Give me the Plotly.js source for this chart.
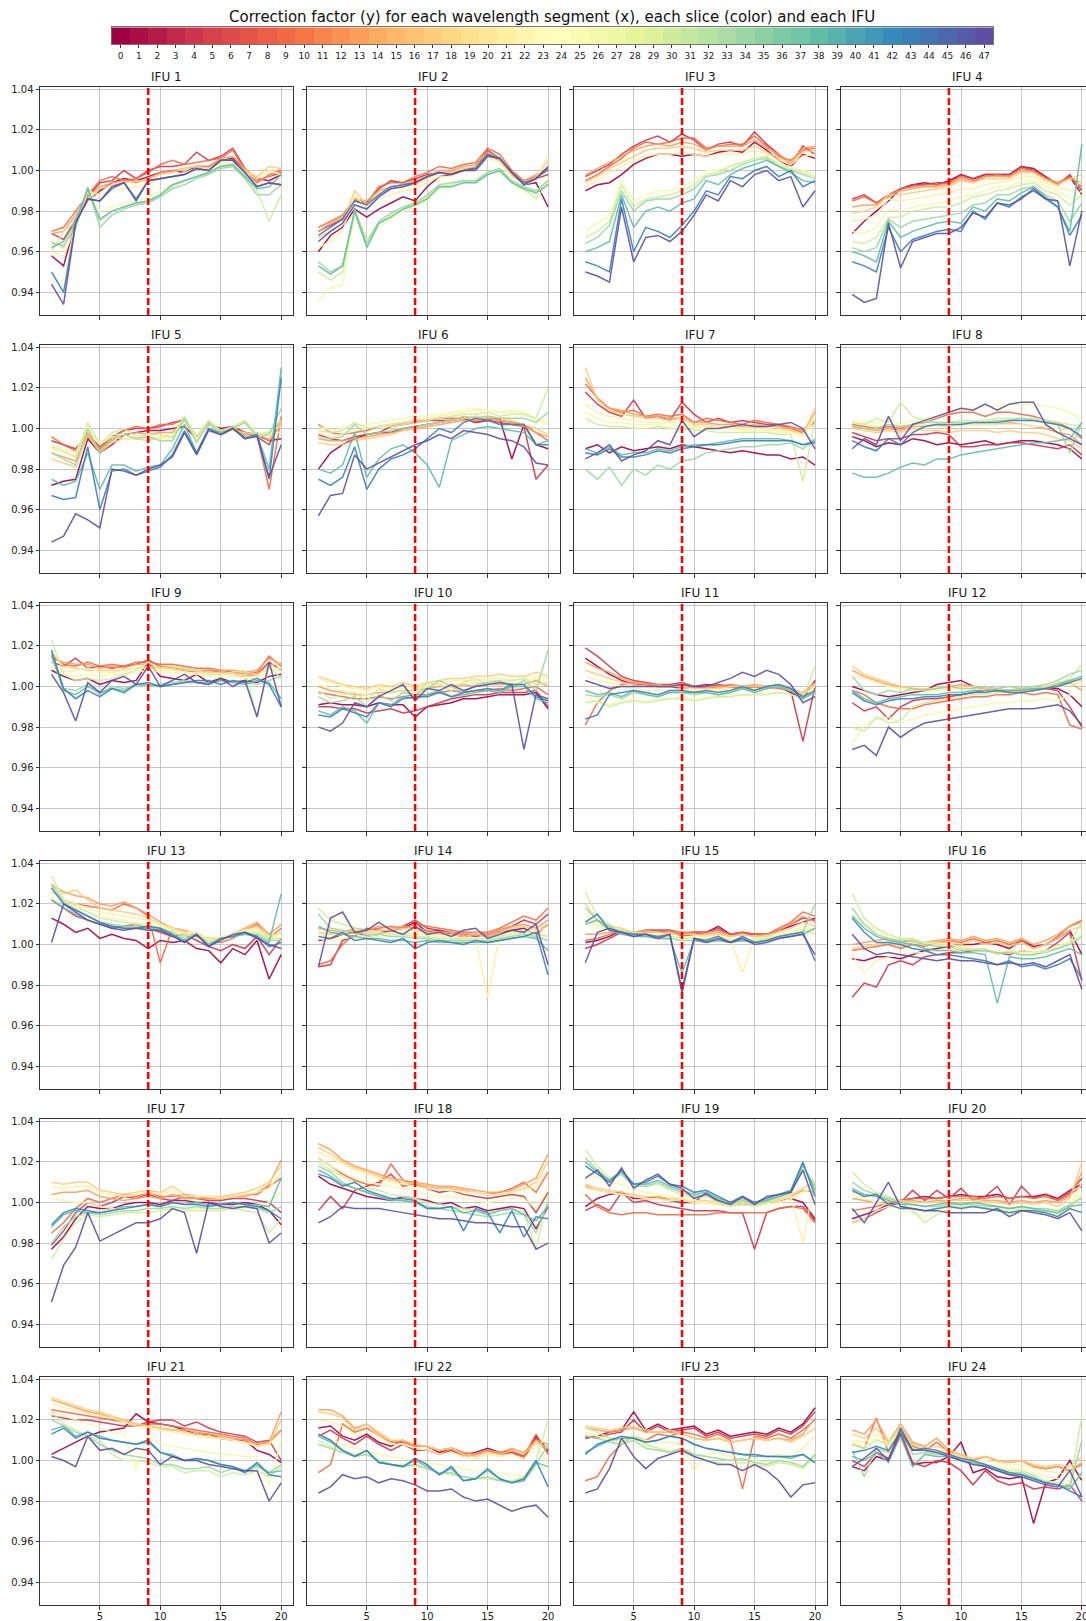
<!DOCTYPE html>
<html>
<head>
<meta charset="utf-8">
<script src="https://cdn.plot.ly/plotly-3.0.1.min.js"></script>
<style>
  html, body { margin: 0; padding: 0; overflow: hidden; background: #ffffff; }
  #chart { width: 1094px; height: 1621px; }
</style>
</head>
<body>
<div id="chart"></div>
<script>
// Wavelength segment index (x axis of every panel)
const segments = [1,2,3,4,5,6,7,8,9,10,11,12,13,14,15,16,17,18,19,20];
// Slices drawn per IFU (row j of each IFU table belongs to slices[j])
const slices = [0,4,9,13,17,21,26,30,34,38,43,47];
// Colour bar ticks: all 48 slices
const sliceTicks = [0,1,2,3,4,5,6,7,8,9,10,11,12,13,14,15,16,17,18,19,20,21,22,23,24,25,26,27,28,29,30,31,32,33,34,35,36,37,38,39,40,41,42,43,44,45,46,47];
// Segment where the reference wavelength sits
const refSegment = 9;
// y axis tick values and labels
const yTicks = [0.94,0.96,0.98,1.00,1.02,1.04];
const yTickText = ['0.94','0.96','0.98','1.00','1.02','1.04'];
const xTicks = [5,10,15,20];

// Correction factor minus 1, in units of 0.001, one row per slice in `slices`
const ifu01 = [
[-42,-47,-25,-15,-10,-6,-4,-5,-3,-1,0,-1,2,2,5,6,0,-4,-5,-2],
[-31,-34,-24,-13,-6,-5,0,-4,0,2,2,3,9,5,7,11,1,-5,-3,-1],
[-30,-28,-20,-12,-5,-3,-5,-4,-1,3,5,3,4,5,6,10,0,-6,-2,0],
[-31,-30,-22,-13,-8,-6,-5,-6,-4,-1,0,1,2,2,6,7,1,-5,-3,1],
[-35,-38,-25,-15,-9,-7,-6,-5,-5,-2,-1,1,2,1,5,5,0,-3,2,1],
[-40,-42,-28,-10,-12,-10,-9,-8,-7,-4,-3,-1,1,0,4,4,-1,-4,0,-2],
[-55,-54,-27,-8,-20,-18,-16,-15,-13,-10,-7,-5,-3,-1,3,3,-2,-7,-6,-8],
[-40,-30,-25,-10,-25,-20,-18,-16,-15,-12,-8,-5,-3,-1,2,2,-3,-10,-25,-12],
[-36,-37,-28,-8,-28,-22,-19,-17,-16,-13,-9,-7,-4,-2,1,2,-4,-12,-12,-7],
[-38,-35,-25,-9,-24,-20,-18,-16,-15,-12,-7,-5,-3,-1,2,3,-3,-9,-8,-2],
[-50,-60,-26,-14,-15,-9,-6,-14,-5,-4,-3,-2,1,0,5,5,-1,-8,-6,-7],
[-56,-66,-26,-14,-15,-8,-6,-15,-5,-4,-3,-2,1,0,5,5,-1,-8,-6,-7]
];
const ifu02 = [
[-40,-32,-28,-19,-23,-19,-16,-13,-15,-8,-3,-2,0,1,8,5,-2,-7,-6,-18],
[-30,-27,-24,-15,-16,-9,-5,-6,-4,-2,-1,-1,0,2,10,6,-1,-6,-4,-2],
[-28,-25,-22,-14,-16,-8,-6,-6,-3,-1,2,1,3,4,11,8,0,-5,-3,0],
[-30,-26,-23,-14,-15,-10,-8,-7,-5,-3,0,0,2,3,9,6,-1,-5,-2,1],
[-33,-30,-26,-10,-17,-11,-9,-8,-7,-4,-1,-1,1,2,7,5,-2,-6,-4,5],
[-38,-35,-30,-12,-19,-14,-12,-10,-9,-6,-3,-3,0,0,6,4,-3,-7,-5,8],
[-64,-58,-56,-22,-37,-28,-24,-20,-18,-15,-9,-8,-6,-5,-1,-1,-6,-10,-12,-4],
[-50,-54,-50,-20,-34,-26,-22,-19,-16,-13,-8,-7,-5,-6,-2,0,-6,-9,-14,-6],
[-45,-50,-47,-19,-36,-25,-21,-18,-16,-12,-7,-6,-5,-5,-1,1,-5,-8,-10,-5],
[-47,-51,-47,-20,-38,-26,-23,-19,-17,-14,-8,-8,-6,-6,-2,0,-6,-9,-11,-7],
[-32,-28,-24,-15,-17,-12,-8,-7,-6,-3,-1,-2,0,1,8,6,-1,-6,-4,1],
[-35,-30,-26,-17,-19,-13,-9,-8,-6,-3,-1,-2,0,0,7,6,-1,-7,-4,2]
];
const ifu03 = [
[-10,-7,-6,-2,3,6,8,8,7,8,7,9,10,9,14,10,5,2,8,6],
[-3,0,3,8,12,15,17,14,18,15,10,13,14,12,19,13,8,3,12,8],
[-5,-2,2,6,11,14,13,14,16,16,11,12,13,13,17,12,7,5,10,11],
[-2,1,4,7,10,12,13,12,14,13,10,12,12,12,15,11,8,4,11,12],
[-6,-3,1,4,7,10,11,11,12,11,9,10,10,10,12,9,6,4,9,10],
[-8,-5,-1,2,5,7,8,8,9,8,7,8,8,8,10,8,5,3,7,8],
[-30,-26,-22,-5,-15,-12,-10,-10,-8,-5,0,0,3,4,6,7,3,2,0,-2],
[-33,-30,-25,-7,-18,-14,-13,-12,-10,-7,-2,-1,2,4,6,7,3,1,-1,-3],
[-36,-33,-27,-10,-20,-15,-14,-14,-12,-9,-3,-2,0,3,5,6,2,0,-2,-4],
[-40,-38,-35,-12,-28,-20,-18,-20,-16,-14,-5,-7,-2,1,3,5,2,-1,-5,-6],
[-45,-47,-50,-14,-40,-28,-30,-33,-27,-20,-10,-12,-3,-4,0,2,-3,0,-8,-5],
[-50,-52,-55,-18,-45,-33,-32,-35,-30,-22,-12,-15,-5,-8,-2,0,-5,-3,-18,-10]
];
const ifu04 = [
[-31,-25,-20,-15,-9,-7,-6,-7,-5,-2,-4,-2,-2,-2,2,1,-3,-7,-3,-12],
[-14,-12,-16,-12,-9,-7,-7,-6,-6,-2,-4,-2,-2,-2,2,0,-3,-7,-2,-10],
[-15,-13,-16,-13,-9,-8,-7,-7,-6,-3,-5,-3,-2,-3,1,0,-4,-6,-3,-8],
[-18,-17,-17,-12,-10,-9,-8,-8,-7,-4,-6,-3,-3,-3,0,-1,-4,-6,-4,-6],
[-21,-20,-18,-12,-12,-11,-10,-9,-8,-5,-6,-4,-4,-4,-1,-1,-5,-7,-4,-2],
[-25,-24,-22,-14,-15,-14,-13,-12,-11,-9,-9,-7,-6,-5,-3,-3,-6,-8,-10,-5],
[-30,-31,-28,-19,-20,-18,-17,-16,-15,-13,-12,-10,-8,-8,-5,-5,-8,-10,-14,-10],
[-35,-36,-33,-23,-23,-20,-19,-18,-18,-16,-13,-12,-10,-9,-7,-6,-10,-12,-17,-12],
[-38,-40,-38,-24,-28,-25,-24,-23,-22,-21,-17,-16,-12,-12,-9,-8,-12,-15,-25,-16],
[-40,-42,-45,-25,-33,-30,-28,-26,-25,-26,-18,-20,-14,-15,-11,-8,-13,-18,-30,13],
[-45,-47,-50,-28,-40,-34,-32,-30,-29,-30,-20,-24,-16,-18,-13,-10,-14,-18,-32,-22],
[-61,-65,-63,-26,-48,-35,-33,-31,-31,-28,-21,-23,-16,-17,-14,-9,-14,-15,-47,-20]
];
const ifu05 = [
[-28,-26,-25,-5,-12,-8,-3,-2,-1,-1,0,1,-5,2,0,1,-2,-3,-6,-5],
[-6,-8,-10,-3,-9,-4,-1,0,0,1,3,4,-4,2,-1,1,-2,-4,-8,4],
[-4,-8,-11,-4,-10,-5,-1,1,0,2,2,5,-4,3,-2,0,-2,-3,-30,6],
[-12,-14,-16,-2,-11,-6,-3,-2,-3,-2,-2,5,-5,3,-1,0,-3,-2,-6,5],
[-15,-17,-19,-3,-12,-7,-5,-5,-6,-4,-4,4,-6,2,-2,-1,-2,-3,-5,3],
[-10,-12,-14,0,-8,-4,-5,-5,-4,-5,-5,6,-6,3,-3,-1,3,-4,-2,-2],
[-8,-10,-12,2,-7,-3,-3,-5,-4,-4,-5,6,-5,3,-2,0,4,-3,-1,1],
[-9,-11,-14,3,-8,-2,0,-4,-3,-3,-4,6,-4,4,-1,1,4,-3,-2,4],
[-12,-15,-18,0,-12,-5,-3,-5,-4,-6,-6,5,-7,3,-3,0,3,-4,-3,10],
[-25,-28,-26,-12,-30,-18,-18,-21,-19,-18,-10,2,-12,0,-2,0,-4,-3,-20,30],
[-33,-35,-34,-9,-40,-21,-20,-23,-21,-19,-13,-1,-12,0,-3,0,-5,-3,-25,25],
[-56,-53,-42,-45,-49,-20,-21,-23,-20,-18,-14,-2,-13,-1,-3,0,-5,-4,-24,-8]
];
const ifu06 = [
[-20,-12,-8,-5,-3,-2,-2,0,1,2,3,4,5,3,4,5,-15,2,-8,-10],
[-3,-5,-6,-4,-3,-2,1,2,3,4,4,4,5,3,4,3,2,1,-25,-18],
[2,-2,-3,-2,-1,1,2,3,4,4,5,5,5,4,5,4,3,2,-2,-6],
[-5,-6,-6,-5,-4,-3,-2,-1,0,1,2,3,4,4,5,4,3,1,-2,-4],
[-7,-8,-8,-6,-5,-4,-3,-1,0,2,3,4,5,6,6,5,4,2,0,-3],
[-2,-4,-3,-1,0,1,2,3,4,5,6,7,8,9,9,8,8,7,4,2],
[1,-1,0,2,2,3,4,5,6,6,7,8,9,10,9,8,9,8,5,3],
[-1,-2,-1,3,0,1,1,2,3,4,5,6,7,7,8,6,7,7,5,20],
[-4,-5,-4,2,-3,-2,-1,0,1,2,3,4,6,5,6,5,5,5,3,8],
[-20,-22,-18,-2,-24,-15,-10,-8,-12,-18,-29,-6,-3,0,1,0,-1,-2,-8,-6],
[-25,-28,-24,-9,-30,-20,-15,-13,-10,-5,0,-2,3,5,4,2,2,2,-8,-8],
[-43,-33,-32,-13,-20,-17,-14,-11,-8,-6,-3,-5,-1,-2,-3,-5,-6,-9,-17,-18]
];
const ifu07 = [
[-10,-8,-12,-9,-11,-10,-9,-10,-8,-9,-10,-11,-12,-11,-12,-13,-13,-15,-14,-18],
[18,12,8,6,14,5,6,4,13,7,3,5,3,4,3,2,2,0,-2,4],
[22,15,10,8,9,6,7,6,7,3,5,4,3,2,4,3,2,1,-1,3],
[25,15,10,9,7,6,6,5,5,3,3,2,2,1,2,1,1,0,-2,8],
[30,14,9,7,6,5,5,4,5,2,2,1,1,0,1,0,0,-1,-3,10],
[12,8,6,5,4,3,3,3,3,1,1,1,0,0,0,0,-1,-2,-3,6],
[8,5,3,3,2,2,2,1,2,0,0,0,0,-1,-1,-1,-2,-2,-4,5],
[5,2,1,1,0,0,1,0,0,-1,-1,-2,-2,-2,-2,-2,-3,-3,-26,4],
[-20,-25,-19,-28,-20,-23,-18,-20,-16,-15,-12,-11,-10,-9,-9,-8,-8,-7,-10,-5],
[-10,-12,-9,-13,-12,-12,-10,-11,-9,-8,-8,-7,-6,-5,-5,-5,-5,-6,-8,-6],
[-12,-13,-10,-14,-14,-13,-11,-12,-10,-9,-8,-8,-7,-6,-6,-6,-6,-6,-8,-7],
[-15,-12,-8,-16,-13,-11,-6,-8,4,-4,0,0,1,2,1,1,2,3,0,-10]
];
const ifu08 = [
[-4,-6,-9,-7,-8,-5,-6,-8,-7,-8,-7,-6,-8,-7,-6,-6,-7,-8,-10,-15],
[-2,-4,-6,-5,-5,-3,-3,-2,-3,-9,-9,-8,-8,-7,-7,-8,-9,-10,-8,-13],
[2,1,0,1,0,2,3,5,7,8,8,6,8,8,7,6,4,3,0,-5],
[1,0,-1,0,-1,1,1,2,1,2,2,2,2,3,2,1,0,-2,-3,-8],
[0,-1,-2,-1,-2,0,-1,-1,-2,-1,-1,-1,-2,-1,-2,-2,-3,-5,-6,-10],
[3,2,1,2,1,2,2,1,1,2,2,2,2,2,2,1,1,0,-1,-4],
[4,3,3,4,2,4,5,6,8,10,10,11,11,12,12,12,11,10,8,4],
[3,2,5,3,13,6,4,3,3,4,4,4,5,5,5,5,4,3,2,1],
[1,0,0,2,1,2,3,3,3,3,3,3,4,4,5,4,3,2,-12,3],
[-22,-24,-24,-22,-19,-17,-18,-15,-15,-13,-12,-11,-10,-9,-8,-7,-7,-6,-5,3],
[-6,-9,-11,-5,-8,-2,1,2,2,2,3,3,3,4,4,4,3,2,0,-4],
[-10,-5,-8,6,-6,2,4,6,8,10,9,12,9,12,13,13,2,-2,-5,-8]
];
const ifu09 = [
[8,5,3,4,1,3,2,3,12,5,4,3,6,2,4,2,3,2,5,6],
[12,10,14,9,10,9,10,11,13,10,9,8,7,8,7,6,5,6,12,8],
[15,11,10,12,10,11,10,12,12,11,11,10,9,9,8,7,6,7,15,10],
[14,12,11,11,9,10,9,11,11,10,10,9,8,8,8,8,7,8,14,11],
[17,10,9,8,8,8,8,9,10,9,9,8,8,7,7,6,6,6,10,12],
[10,7,8,9,7,7,8,9,9,8,8,7,7,6,6,6,5,5,9,9],
[12,6,5,6,5,6,6,7,8,7,7,6,6,5,5,5,4,4,8,8],
[23,6,3,4,3,4,6,8,12,9,10,9,8,6,6,7,8,-15,10,4],
[15,-1,-2,1,-4,0,-1,1,0,1,2,3,2,1,3,2,2,1,3,5],
[16,-2,-4,0,-3,-1,-2,1,1,0,1,2,2,2,3,2,1,3,2,-6],
[18,-1,-6,-2,-5,-1,-3,1,2,0,1,2,3,3,1,3,2,4,1,-10],
[6,-3,-17,2,-3,3,5,1,10,0,3,6,2,1,4,0,3,-15,12,-10]
];
const ifu10 = [
[-9,-8,-9,-9,-10,-8,-9,-9,-15,-10,-9,-8,-6,-6,-5,-4,-4,-4,-3,-11],
[-10,-10,-11,-11,-13,-12,-11,-13,-12,-10,-8,-6,-5,-4,-4,-3,-3,-3,-2,-10],
[-3,-4,-5,-6,-6,-5,-6,-5,-4,-4,-3,-2,-3,-2,-2,-1,-2,-1,0,-4],
[0,-2,-3,-4,-4,-3,-3,-2,-2,-1,0,0,1,0,1,1,1,1,3,0],
[5,3,1,0,-1,1,0,2,0,2,3,4,4,5,5,6,5,5,7,5],
[4,2,0,-1,-2,0,-1,1,-1,1,2,3,3,3,4,4,3,4,5,4],
[1,-1,-2,-3,-4,-2,-2,-1,-2,0,1,1,2,2,3,3,2,2,4,2],
[-2,-6,-4,-3,-7,-1,-3,-2,-4,2,1,-2,2,4,1,2,3,4,1,2],
[-5,-8,-7,-5,-10,-4,-7,-3,-4,-1,3,0,-3,1,2,3,-1,3,-2,18],
[-12,-14,-10,-12,-18,-8,-9,-5,-6,-4,-2,-5,-4,-3,-2,-3,0,0,-6,-8],
[-14,-15,-11,-13,-15,-8,-10,-6,-5,-5,-3,-5,-3,-2,-1,-2,1,1,-5,-7],
[-20,-22,-18,-8,-10,-5,-2,1,-7,-1,-2,1,-2,0,1,2,1,-31,-4,-6]
];
const ifu11 = [
[14,10,6,3,1,1,0,0,-1,0,1,0,0,-1,0,-1,0,-3,-6,3],
[19,15,10,5,3,2,1,1,2,0,0,1,0,-1,0,-1,0,-2,-27,0],
[-19,-8,-2,1,2,1,0,0,1,0,-1,0,1,0,0,0,-1,-2,-4,2],
[12,9,7,4,2,1,1,0,1,0,0,0,0,0,1,0,1,-1,-3,2],
[8,6,4,2,1,0,0,0,0,-1,-1,-1,0,0,0,0,0,-2,-3,1],
[5,3,2,0,-1,-2,-2,-2,-1,-2,-2,-2,-1,-1,-1,-1,0,-2,-4,0],
[-5,-8,-9,-7,-6,-7,-6,-6,-5,-6,-5,-5,-4,-4,-4,-3,-3,-4,-6,-3],
[-8,-7,-10,-8,-7,-8,-7,-6,-6,-7,-6,-5,-5,-4,-4,-4,-3,-4,-6,10],
[-4,-5,-4,-6,-3,-4,-5,-3,-3,-4,-3,-4,-3,-1,-2,0,1,-1,-5,-2],
[-2,-4,-3,-5,-2,-4,-5,-3,-3,-3,-3,-4,-3,-1,-3,-1,0,-2,-6,-3],
[-16,-14,-4,-3,-2,-3,-4,-2,-2,-3,-2,-3,-2,0,-2,0,1,-1,-5,-2],
[3,1,-1,0,0,0,0,0,1,0,0,2,4,7,5,8,6,1,-8,-5]
];
const ifu12 = [
[0,-2,-4,-5,-4,-3,-2,1,2,3,0,-1,-2,-3,-2,-2,-1,-1,-4,-10],
[-8,-12,-10,-16,-10,-7,-6,-6,-5,-4,-3,-2,-2,-2,-1,-2,-1,-2,-10,-20],
[-2,-4,-8,-10,-11,-11,-9,-8,-7,-6,-5,-5,-4,-4,-3,-4,-3,-4,-19,-21],
[8,5,3,1,0,-1,-2,-1,0,1,0,-1,-2,-3,-2,-2,-1,1,2,-2],
[10,6,4,2,0,-1,-1,-1,0,0,0,-1,-1,-2,-1,-1,0,2,3,3],
[6,4,2,0,-1,-2,-2,-2,-1,-1,-1,-2,-2,-3,-2,-2,-1,0,1,2],
[-28,-19,-16,-15,-18,-16,-14,-13,-12,-11,-10,-9,-8,-8,-7,-7,-6,-7,-4,-6],
[-20,-22,-15,-18,-17,-10,-8,-7,-6,-5,-4,-4,-3,-3,-2,-2,-1,1,4,11],
[5,-2,-4,-2,-3,-1,-2,-1,0,-1,-1,0,-1,0,-1,0,1,3,6,8],
[-2,-6,-8,-6,-5,-4,-4,-4,-3,-3,-2,-2,-2,-2,-2,-1,-1,1,3,5],
[-3,-7,-9,-7,-6,-6,-5,-5,-4,-4,-3,-3,-2,-3,-3,-2,-1,0,2,4],
[-31,-29,-34,-20,-25,-21,-18,-17,-16,-15,-14,-13,-12,-11,-11,-11,-10,-9,-12,-19]
];
const ifu13 = [
[13,10,6,8,3,5,3,2,-2,2,1,2,-2,-3,-9,-2,-5,2,-17,-5],
[22,18,14,12,10,8,9,10,8,6,4,5,2,-1,-3,0,-2,4,-5,3],
[26,22,20,19,18,17,20,18,14,-9,8,6,4,2,1,3,7,10,3,8],
[29,26,24,23,20,19,21,18,15,11,8,7,5,3,3,5,8,11,5,10],
[30,25,27,22,18,17,16,15,13,10,7,6,5,2,3,4,7,9,4,6],
[26,22,20,18,16,15,14,13,12,10,8,6,6,3,4,5,7,8,4,5],
[23,20,18,16,14,13,12,11,10,9,7,5,6,2,3,5,7,7,3,4],
[34,22,19,16,13,12,11,10,9,8,6,4,6,1,3,5,6,6,3,3],
[30,21,17,14,11,10,9,9,8,8,6,3,5,0,3,4,5,5,2,2],
[22,18,15,12,10,9,8,8,8,7,5,2,5,0,3,4,5,4,1,25],
[28,20,17,14,11,9,8,8,9,8,5,1,5,-1,3,4,6,4,-1,1],
[1,20,16,12,10,8,7,8,7,7,4,1,5,-1,2,5,6,3,0,-2]
];
const ifu14 = [
[2,3,5,6,4,5,7,8,11,6,7,5,4,5,4,6,7,8,5,10],
[-11,-10,2,4,8,7,6,9,12,8,7,6,5,4,5,7,9,12,10,15],
[-10,-8,0,5,7,8,9,8,10,9,8,7,6,6,6,8,11,14,12,18],
[8,7,6,8,7,9,8,9,8,7,6,6,5,6,5,7,9,10,8,12],
[6,5,6,7,6,7,7,8,7,6,5,5,4,5,4,6,8,9,7,10],
[5,4,5,5,4,5,6,6,5,5,4,4,3,3,-26,5,6,7,6,9],
[3,2,3,4,3,4,4,5,4,3,3,3,2,2,2,3,4,5,4,6],
[18,12,10,8,6,6,5,5,4,4,3,3,3,3,3,4,5,6,5,4],
[15,8,7,6,5,5,4,4,3,3,2,2,2,2,2,3,4,5,4,2],
[9,6,5,4,3,3,2,2,1,2,1,1,1,1,1,2,3,4,3,-3],
[4,3,6,2,3,2,1,3,-2,1,2,1,0,2,1,2,3,4,6,-15],
[-11,13,16,6,7,11,7,5,9,5,6,4,7,8,3,5,7,6,10,-10]
];
const ifu15 = [
[1,2,4,7,5,7,7,7,5,6,6,9,5,6,5,5,7,9,11,13],
[-2,0,3,6,5,6,6,7,4,5,6,8,5,5,5,5,7,10,13,12],
[2,3,5,7,6,7,7,7,6,6,6,7,5,6,5,5,8,11,16,14],
[5,5,6,7,6,7,6,6,6,5,5,6,4,5,4,5,7,10,14,11],
[20,12,9,8,6,6,6,5,5,5,4,5,4,5,4,4,6,8,11,9],
[12,9,7,7,5,5,5,4,4,4,4,4,3,-14,3,3,5,6,9,7],
[15,10,8,6,5,5,4,4,3,3,3,3,2,3,2,3,4,6,8,6],
[26,14,10,7,6,5,4,4,3,3,3,3,2,2,2,3,4,5,7,5],
[18,12,9,6,5,4,3,3,2,2,2,2,1,2,1,2,3,5,6,20],
[10,12,7,5,4,4,3,3,-14,2,1,2,1,2,1,2,3,4,5,8],
[11,15,7,6,5,5,4,5,-22,3,2,4,1,4,1,2,4,5,6,-8],
[-9,6,8,6,4,5,3,5,-24,3,1,3,1,3,0,1,3,4,5,-5]
];
const ifu16 = [
[-7,-8,-6,-6,-7,-5,-3,-2,-1,0,0,1,0,-2,2,-1,0,3,7,-5],
[-26,-19,-21,-10,-8,-10,-6,-5,-4,-4,-3,-3,-4,-5,-3,-4,-3,1,6,-18],
[-3,-2,-1,0,-2,0,-1,1,2,1,3,1,2,0,2,-2,0,4,9,12],
[0,1,2,3,1,2,1,2,3,2,4,2,3,1,3,0,2,5,9,11],
[-2,-1,0,1,-1,1,0,1,1,0,2,0,1,-1,1,-2,0,3,7,9],
[-5,-14,-8,-6,-5,-4,-4,-3,-3,-3,-2,-3,-3,-4,-3,-4,-3,-1,2,3],
[15,10,7,4,3,2,1,0,0,-1,-2,-2,-4,-3,-4,-4,-3,-2,0,6],
[25,13,8,5,3,3,1,0,0,-2,-2,-2,-5,-3,-5,-5,-3,-2,1,11],
[18,10,5,3,2,2,0,-1,-1,-3,-3,-3,-4,-4,-5,-5,-4,-2,0,4],
[14,8,4,2,1,0,-2,-3,-3,-4,-4,-5,-29,-6,-7,-7,-6,-4,-2,-5],
[13,6,1,1,0,-2,-3,-5,-5,-6,-7,-8,-10,-8,-11,-10,-12,-10,-7,-17],
[5,-2,-5,-4,-5,-6,-7,-8,-7,-8,-8,-9,-10,-9,-10,-9,-11,-8,-5,-22]
];
const ifu17 = [
[-23,-17,-8,-2,-3,-3,-1,0,0,-1,1,1,0,0,-1,-1,0,-1,-4,-11],
[-21,-14,-5,0,-2,0,3,2,4,2,1,3,2,1,1,2,2,1,0,-5],
[-15,-10,-3,2,0,2,4,3,5,3,3,4,3,2,2,3,4,4,8,12],
[4,5,5,6,3,2,1,2,3,2,4,2,2,2,2,3,3,5,9,21],
[10,9,10,10,6,5,4,5,6,5,8,4,3,3,3,4,5,7,10,18],
[8,7,8,8,5,4,3,4,5,4,6,3,3,3,2,3,4,5,7,15],
[2,1,0,0,-2,-3,-4,-4,-3,-3,-2,-3,-3,-3,-3,-2,-3,-2,0,5],
[-28,-18,-10,-6,-7,-6,-5,-5,-5,-4,-3,-4,-4,-4,-4,-3,-4,-5,-15,-8],
[-20,-12,-7,-5,-6,-5,-4,-4,-3,-3,-2,-3,-2,-3,-3,-2,-2,-3,-5,-2],
[-12,-6,-4,-5,-5,-4,-2,-2,-1,-2,0,-1,0,-1,-1,0,-1,-1,-2,12],
[-11,-5,-3,-4,-5,-4,-3,-2,-1,-2,0,-1,-1,-2,-1,0,-1,-2,-4,-8],
[-49,-31,-22,-5,-19,-16,-13,-10,-10,-8,-3,-5,-25,0,-2,-3,-2,-3,-20,-15]
];
const ifu18 = [
[13,9,7,5,3,2,1,3,2,1,-1,0,-3,-2,-4,-3,-2,-3,-13,-2],
[-4,3,-3,6,8,10,14,8,9,7,5,6,4,3,2,3,4,3,-5,5],
[22,18,14,11,9,8,19,11,9,8,7,7,6,5,4,5,7,10,5,15],
[29,26,21,18,16,14,12,11,10,9,8,8,7,6,5,5,6,9,12,24],
[27,24,20,17,15,13,11,10,9,8,7,7,6,5,4,4,5,7,10,20],
[25,22,19,16,14,12,10,9,8,7,6,6,5,5,4,4,5,6,8,16],
[22,18,15,12,10,9,8,7,6,4,3,3,2,1,0,1,2,2,-3,8],
[20,16,13,10,7,6,4,3,2,0,-1,-2,-3,-4,-5,-4,-3,-5,-23,4],
[18,15,10,7,5,3,2,1,0,-2,-3,-4,-5,-6,-7,-6,-5,-6,-15,0],
[16,13,9,7,5,3,1,1,0,-3,-3,-2,-5,-4,-6,-4,-3,-6,-9,-2],
[14,12,8,10,6,4,2,2,1,-3,-3,-2,-14,-3,-5,-15,-4,-17,-7,-8],
[-10,-7,-2,-3,-3,-3,-4,-5,-6,-7,-8,-8,-9,-10,-10,-11,-12,-12,-23,-20]
];
const ifu19 = [
[-2,2,4,5,2,2,3,1,0,0,5,0,-1,-1,-1,0,1,2,0,-8],
[-4,-1,-4,5,0,1,-1,-2,-3,-4,-4,-4,-5,-5,-23,-5,-3,-2,-2,-9],
[4,-2,-5,-6,-5,-5,-6,-6,-6,-6,-6,-5,-5,-5,-5,-5,-3,-2,-3,-10],
[8,6,5,4,3,2,2,1,1,0,0,-1,-1,0,-1,0,1,3,6,5],
[9,7,6,5,4,3,3,2,2,1,1,0,0,1,0,1,2,4,7,10],
[7,6,5,4,3,2,2,1,1,0,0,0,-1,0,-1,0,1,3,-20,12],
[15,12,10,9,7,5,4,3,2,1,0,-1,-2,-1,-2,-1,0,2,5,8],
[26,18,12,15,8,8,9,6,4,2,3,0,-2,0,-2,0,2,4,16,10],
[22,16,11,14,8,8,10,7,5,3,4,1,-1,1,-1,1,3,5,18,8],
[20,15,11,15,9,9,11,8,6,4,5,2,0,2,0,1,3,5,19,6],
[18,14,10,16,9,10,13,9,8,5,6,3,0,3,0,2,4,6,20,3],
[12,16,8,17,7,11,14,9,7,2,4,1,-1,3,-1,3,4,5,16,-1]
];
const ifu20 = [
[-8,-6,-4,-1,1,2,3,2,3,4,3,3,4,2,3,3,4,2,6,9],
[-10,-8,-5,-2,0,6,1,6,2,7,1,3,8,-1,8,2,4,1,5,12],
[-4,-3,-2,0,1,2,2,2,3,3,3,2,3,2,3,2,3,1,4,8],
[2,1,0,0,1,1,0,1,1,2,2,1,1,0,1,0,1,0,3,15],
[5,4,3,2,1,0,0,0,1,1,1,0,0,-1,0,-1,0,-2,2,20],
[-10,-8,-4,-2,-2,-3,-4,-3,-2,-2,-2,-3,-3,-4,-3,-4,-4,-5,-2,10],
[4,2,0,-1,-3,-5,-7,-4,-2,-2,-2,-3,-3,-4,-3,-4,-4,-5,-2,5],
[15,9,5,3,0,-4,-10,-6,-3,-2,-2,-3,-3,-5,-3,-4,-5,-6,-2,3],
[10,6,4,2,0,-1,-2,-2,-1,-1,-1,-2,-2,-3,-2,-3,-3,-4,-1,2],
[7,4,3,1,-1,-1,-2,-1,0,-1,0,-1,-2,-3,-2,-3,-4,-5,-2,-1],
[6,3,4,-1,-3,-3,-4,-3,-2,-3,-2,-3,-4,-5,-4,-4,-5,-7,-3,-5],
[-3,-10,0,10,-2,-3,-4,-4,-5,-5,-5,-5,-3,-7,-4,-5,-6,-8,-5,-14]
];
const ifu21 = [
[3,6,9,12,14,15,16,23,19,18,17,15,13,13,11,10,10,5,3,-1],
[22,21,20,20,19,18,17,17,19,20,20,17,19,16,14,13,12,9,10,0],
[25,24,23,22,21,20,19,17,18,18,17,16,15,14,13,12,11,8,9,15],
[30,28,26,24,23,21,20,18,17,16,15,15,14,13,12,11,10,8,9,24],
[31,29,27,25,24,22,20,18,17,16,15,14,13,12,11,10,9,7,8,20],
[28,26,25,23,22,21,19,17,16,15,14,13,12,11,11,10,9,7,8,14],
[24,22,20,18,16,14,13,-4,12,8,7,6,5,4,3,3,2,2,-12,10],
[24,18,15,12,10,3,0,0,-1,-3,-3,-6,-5,-5,-8,-6,-7,-5,-8,-3],
[20,17,14,12,8,5,3,2,1,-2,-2,-4,-4,-3,-6,-4,-6,-3,-6,-2],
[15,17,12,14,12,10,9,8,9,4,3,0,1,0,-2,-3,-5,-2,-6,-5],
[13,16,11,14,11,10,9,8,10,4,2,0,1,0,-2,-3,-6,-1,-7,-8],
[2,0,-3,12,5,6,3,6,5,-2,2,0,0,-2,-3,-4,-5,-5,-20,-11]
];
const ifu22 = [
[16,17,12,10,13,9,7,10,7,7,4,6,3,4,6,4,5,2,12,5],
[12,15,11,8,12,8,5,8,5,5,3,5,2,3,5,3,4,1,11,4],
[-6,-2,18,14,16,12,9,9,7,7,5,6,4,3,5,3,5,2,13,3],
[25,25,22,16,18,13,9,10,7,7,5,6,4,3,5,4,6,4,10,8],
[24,23,21,15,18,14,10,10,8,7,5,6,3,2,4,3,5,3,9,6],
[20,19,17,13,15,12,8,8,6,5,3,4,2,1,3,2,3,1,7,-2],
[13,10,8,6,5,3,2,1,0,-1,-2,-3,-4,-5,-5,-6,-7,-8,-4,-3],
[10,7,5,3,3,0,-2,-2,-3,-4,-6,-7,-8,-9,-9,-10,-10,-8,0,20],
[8,6,4,2,3,0,-2,-3,-2,-4,-6,-6,-8,-9,-8,-10,-11,-10,-2,8],
[12,9,5,2,5,-1,-2,-3,0,-3,-7,-4,-10,-9,-5,-9,-11,-10,-1,-3],
[13,10,5,2,5,-1,-2,-3,1,-2,-7,-3,-10,-9,-4,-9,-11,-9,0,-13],
[-16,-13,-7,-9,-8,-11,-9,-10,-12,-15,-15,-14,-18,-20,-19,-22,-25,-23,-22,-28]
];
const ifu23 = [
[11,12,14,15,24,15,18,15,16,17,13,15,12,13,14,13,16,14,18,26],
[12,11,13,14,20,14,17,14,15,16,12,14,11,12,13,12,15,13,17,24],
[-10,-8,2,8,12,10,13,12,14,13,11,13,10,-14,12,11,13,11,15,20],
[16,15,14,15,16,14,14,14,13,11,10,11,9,10,11,10,11,10,13,21],
[17,16,15,16,17,15,14,15,13,11,10,11,9,10,11,10,11,9,12,16],
[13,12,11,11,12,10,9,9,8,-5,3,4,2,3,3,2,3,2,6,12],
[14,12,10,8,11,7,6,5,6,3,2,1,0,1,0,-1,0,0,-3,4],
[16,14,11,9,12,8,6,4,6,2,0,-1,-2,-1,-2,-3,-1,-2,-4,2],
[12,11,9,8,10,6,5,4,6,3,2,1,0,1,-1,-2,0,-1,-3,3],
[4,7,10,11,11,9,10,12,11,8,6,5,4,3,2,2,2,1,3,-1],
[3,8,10,12,11,9,10,12,11,8,6,5,4,3,3,2,2,2,3,-1],
[-16,-14,-4,11,2,-4,1,3,5,2,0,-2,-2,-5,-2,-5,-10,-18,-12,-11]
];
const ifu24 = [
[-3,-5,2,0,13,-2,-1,-1,2,9,-6,-4,-8,-9,-8,-31,-11,-9,0,-10],
[0,-3,4,1,14,-1,-3,0,-1,-5,-12,-5,-10,-12,-11,-14,-13,-14,-12,-20],
[8,6,21,4,17,7,5,9,4,2,0,2,0,-1,0,-3,-4,-3,-5,-2],
[15,13,20,9,18,9,7,11,5,3,0,2,0,-1,0,-3,-4,-3,-5,-1],
[13,11,16,9,16,8,6,7,5,3,1,2,0,-1,0,-2,-3,-2,-3,2],
[10,9,13,8,15,6,5,5,4,2,0,0,-1,-2,-2,-4,-5,-6,-7,-8],
[9,7,11,7,14,5,4,4,3,1,-1,-2,-3,-4,-4,-6,-8,-9,-10,-10],
[8,6,10,8,17,6,5,4,3,1,-1,-2,-4,-5,-5,-7,-10,-11,-12,22],
[5,-8,6,4,15,3,4,3,3,0,-1,-2,-4,-6,-6,-8,-11,-12,-13,10],
[2,0,4,-1,12,-3,3,2,2,0,-1,-3,-5,-7,-7,-9,-11,-12,-14,-6],
[4,5,7,5,14,5,6,5,3,1,0,-2,-4,-6,-7,-9,-11,-12,-15,-18],
[-3,1,6,0,16,5,5,4,2,0,-2,-3,-5,-7,-8,-10,-12,-13,-5,-18]
];

const ifuTables = [ifu01,ifu02,ifu03,ifu04,ifu05,ifu06,ifu07,ifu08,ifu09,ifu10,ifu11,ifu12,
                   ifu13,ifu14,ifu15,ifu16,ifu17,ifu18,ifu19,ifu20,ifu21,ifu22,ifu23,ifu24];

// Spectral colormap anchors (ColorBrewer, 11 classes)
const spectralStops = ['#9e0142','#d53e4f','#f46d43','#fdae61','#fee08b','#ffffbf',
                       '#e6f598','#abdda4','#66c2a5','#3288bd','#5e4fa2'];
function hexToRgb(h) { return [1,3,5].map(i => parseInt(h.slice(i, i + 2), 16)); }
function spectral(t) {
  const pos = t * (spectralStops.length - 1);
  const i = Math.min(Math.floor(pos), spectralStops.length - 2);
  const f = pos - i;
  const a = hexToRgb(spectralStops[i]), b = hexToRgb(spectralStops[i + 1]);
  const c = a.map((v, k) => Math.round(v + (b[k] - v) * f));
  return 'rgb(' + c.join(',') + ')';
}
const sliceColor = sliceTicks.map(s => spectral(s / (sliceTicks.length - 1)));

// Page geometry (pixels)
const W = 1094, H = 1621;
const colLeft = [40, 306.9, 573.8, 840.7], axW = 252.7;
const rowTop = [86.7, 344.7, 602.7, 860.7, 1118.7, 1376.7], axH = 228.3;
const FONT = 'DejaVu Sans, Liberation Sans, sans-serif';

const traces = [];
const layout = {
  width: W, height: H,
  margin: {l: 0, r: 0, t: 0, b: 0},
  paper_bgcolor: '#ffffff', plot_bgcolor: '#ffffff',
  showlegend: false,
  font: {family: FONT, color: '#222222', size: 10},
  shapes: [], annotations: []
};

ifuTables.forEach((rows, k) => {
  const id = k === 0 ? '' : String(k + 1);
  const col = k % 4, row = Math.floor(k / 4);
  rows.forEach((vals, j) => {
    traces.push({
      type: 'scatter', mode: 'lines',
      x: segments, y: vals.map(v => 1 + v / 1000),
      xaxis: 'x' + id, yaxis: 'y' + id,
      line: {color: sliceColor[slices[j]], width: 1.5},
      opacity: 0.9, hoverinfo: 'skip', showlegend: false
    });
  });
  const x0 = colLeft[col] / W, x1 = (colLeft[col] + axW) / W;
  const y1 = 1 - rowTop[row] / H, y0 = 1 - (rowTop[row] + axH) / H;
  layout['xaxis' + id] = {
    domain: [x0, x1], anchor: 'y' + id, range: [0.05, 20.95],
    tickvals: xTicks, ticks: 'outside', ticklen: 3.5, tickwidth: 1, tickcolor: '#333333',
    showticklabels: row === 5, ticklabelstandoff: -2, tickfont: {size: 10, color: '#222222'},
    showgrid: true, gridcolor: '#b8b8b8', gridwidth: 0.8, zeroline: false,
    showline: true, mirror: true, linecolor: '#333333', linewidth: 1, fixedrange: true
  };
  layout['yaxis' + id] = {
    domain: [y0, y1], anchor: 'x' + id, range: [0.9288, 1.0413],
    tickvals: yTicks, ticktext: yTickText, ticks: 'outside', ticklen: 3.5, tickwidth: 1, tickcolor: '#333333',
    showticklabels: col === 0, tickfont: {size: 10, color: '#222222'},
    showgrid: true, gridcolor: '#b8b8b8', gridwidth: 0.8, zeroline: false,
    showline: true, mirror: true, linecolor: '#333333', linewidth: 1, fixedrange: true
  };
  layout.shapes.push({
    type: 'line', xref: 'x' + id, yref: 'y' + id + ' domain',
    x0: refSegment, x1: refSegment, y0: 0, y1: 1,
    line: {color: '#ff0000', width: 2.5, dash: '7px,3px'}, layer: 'above'
  });
  layout.annotations.push({
    text: 'IFU ' + (k + 1), xref: 'paper', yref: 'paper',
    x: (colLeft[col] + axW / 2) / W, y: 1 - (rowTop[row] - 9.5) / H,
    xanchor: 'center', yanchor: 'middle', showarrow: false,
    font: {family: FONT, size: 12, color: '#1a1a1a'}
  });
});

// Slice colour bar
traces.push({
  type: 'heatmap', z: [sliceTicks], x: sliceTicks, y: [0],
  xaxis: 'x25', yaxis: 'y25',
  colorscale: sliceColor.map((c, i) => [i / (sliceColor.length - 1), c]),
  zmin: 0, zmax: sliceTicks.length - 1, showscale: false, hoverinfo: 'skip'
});
layout.xaxis25 = {
  domain: [111.4 / W, 993.3 / W], anchor: 'y25', range: [-0.5, 47.5],
  tickvals: sliceTicks, ticktext: sliceTicks.map(String),
  ticks: 'outside', ticklen: 3, tickwidth: 1, tickcolor: '#333333',
  tickfont: {size: 9, color: '#222222'},
  showgrid: false, zeroline: false, showline: true, mirror: true,
  linecolor: '#555555', linewidth: 0.8, fixedrange: true
};
layout.yaxis25 = {
  domain: [1 - 44.3 / H, 1 - 27.3 / H], anchor: 'x25', range: [-0.5, 0.5],
  showticklabels: false, ticks: '', showgrid: false, zeroline: false,
  showline: true, mirror: true, linecolor: '#555555', linewidth: 0.8, fixedrange: true
};

layout.annotations.push({
  text: 'Correction factor (y) for each wavelength segment (x), each slice (color) and each IFU',
  xref: 'paper', yref: 'paper', x: 552 / W, y: 1 - 17 / H,
  xanchor: 'center', yanchor: 'middle', showarrow: false,
  font: {family: FONT, size: 15, color: '#111111'}
});

Plotly.newPlot('chart', traces, layout, {staticPlot: true, displayModeBar: false});
</script>
</body>
</html>
